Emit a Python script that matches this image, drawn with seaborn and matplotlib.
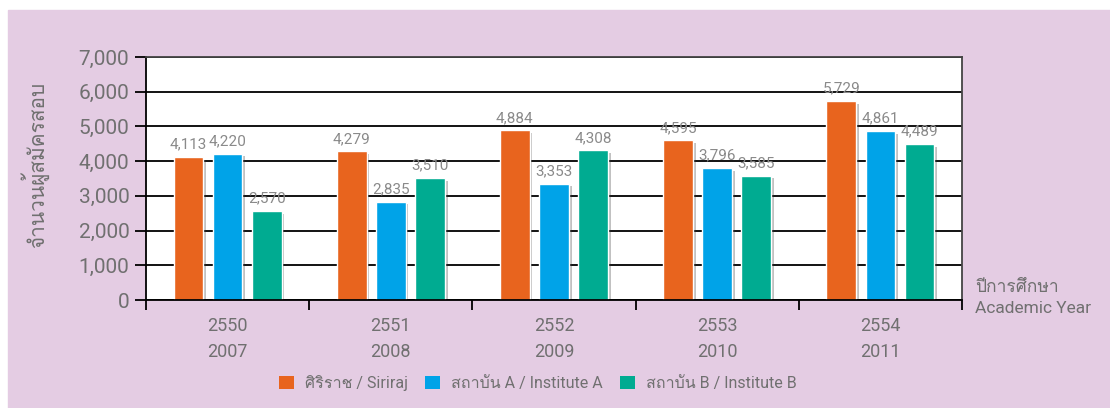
import matplotlib
matplotlib.use("Agg")
import matplotlib.pyplot as plt
import matplotlib.patheffects as pe
from matplotlib import font_manager
from matplotlib.ft2font import FT2Font
from matplotlib.patches import Rectangle, Patch
from matplotlib.ticker import FuncFormatter, FixedLocator
import seaborn as sns
import pandas as pd

years_be = ["2550", "2551", "2552", "2553", "2554"]
years_ce = ["2007", "2008", "2009", "2010", "2011"]
institutes = ["ศิริราช / Siriraj", "สถาบัน A / Institute A", "สถาบัน B / Institute B"]
siriraj = [4113, 4279, 4884, 4595, 5729]
institute_a = [4220, 2835, 3353, 3796, 4861]
institute_b = [2570, 3510, 4308, 3585, 4489]
colors = ["#E8641E", "#00A3E8", "#00AB91"]

TEXT = "#707070"
BG = "#E4CCE3"


def find_thai_font():
    # the listed fonts have no Thai, look for anything installed that does
    for f in font_manager.fontManager.ttflist:
        try:
            if 0x0E08 in FT2Font(f.fname).get_charmap():
                return f.name
        except Exception:
            pass
    return None


sns.set_theme(style="white")
thai = find_thai_font()
families = ["Roboto"]
if thai:
    families.append(thai)
families.append("DejaVu Sans")
plt.rcParams["font.family"] = families

rows = []
for name, vals in zip(institutes, [siriraj, institute_a, institute_b]):
    for y, v in zip(years_be, vals):
        rows.append({"year": y, "count": v, "institute": name})
df = pd.DataFrame(rows)

fig = plt.figure(figsize=(11.1, 4.08), dpi=100, facecolor="white")
fig.patches.append(Rectangle((8 / 1110, 0), 1 - 8 / 1110, 398 / 408,
                             transform=fig.transFigure, color=BG, zorder=-10))
ax = fig.add_axes([146 / 1110, 108 / 408, 816 / 1110, 243 / 408])
ax.set_zorder(5)
ax.set_facecolor("white")

sns.barplot(data=df, x="year", y="count", hue="institute", hue_order=institutes,
            palette=colors, width=0.72, gap=0.24, saturation=1, ax=ax,
            legend=False, errorbar=None)

# soft drop shadow like the original
for bar in ax.patches:
    bar.set_path_effects([pe.SimplePatchShadow(offset=(2, -2), shadow_rgbFace="#333333", alpha=0.3),
                          pe.Normal()])

for cont in ax.containers:
    ax.bar_label(cont, labels=[f"{int(v):,}" for v in cont.datavalues],
                 padding=4, fontsize=11, color="#8a8a8a")

ax.set_ylim(0, 7000)
ax.set_xlim(-0.5, 4.5)
ax.set_yticks(range(0, 7001, 1000))
ax.yaxis.set_major_formatter(FuncFormatter(lambda v, p: f"{int(v):,}"))
ax.yaxis.grid(True, color="black", lw=1.3)
ax.set_axisbelow(True)

ax.set_xticks(range(5))
ax.set_xticklabels([f"{a}\n{b}" for a, b in zip(years_be, years_ce)], linespacing=1.6)
ax.xaxis.set_minor_locator(FixedLocator([i - 0.5 for i in range(6)]))
ax.tick_params(axis="x", which="major", length=0, pad=12, labelsize=13, labelcolor=TEXT)
ax.tick_params(axis="x", which="minor", bottom=True, length=7, width=1.3, color="black", direction="out")
ax.tick_params(axis="y", left=True, length=8, width=1.3, color="black", direction="out",
               labelsize=15, labelcolor=TEXT, pad=4)
ax.set_xlabel("")
ax.set_ylabel("")

for s in ax.spines.values():
    s.set_visible(True)
    s.set_color("black")
    s.set_linewidth(1.3)
ax.spines["right"].set_color("#444444")
ax.spines["top"].set_color("#444444")

fig.text(35 / 1110, 0.596, "จำนวนผู้สมัครสอบ", rotation=90, ha="center", va="center",
         fontsize=15, color=TEXT)
fig.text(975 / 1110, 110 / 408, "ปีการศึกษา\nAcademic Year", ha="left", va="center",
         fontsize=12.5, color=TEXT, linespacing=1.5)

handles = [Patch(facecolor=c, edgecolor="none") for c in colors]
fig.legend(handles, institutes, loc="center", bbox_to_anchor=(538 / 1110, 25 / 408), ncol=3,
           frameon=False, fontsize=11.5, labelcolor=TEXT, handlelength=0.9, handleheight=0.9,
           handletextpad=0.7, columnspacing=1.1)

fig.savefig("out.png", dpi=100, facecolor="white")
